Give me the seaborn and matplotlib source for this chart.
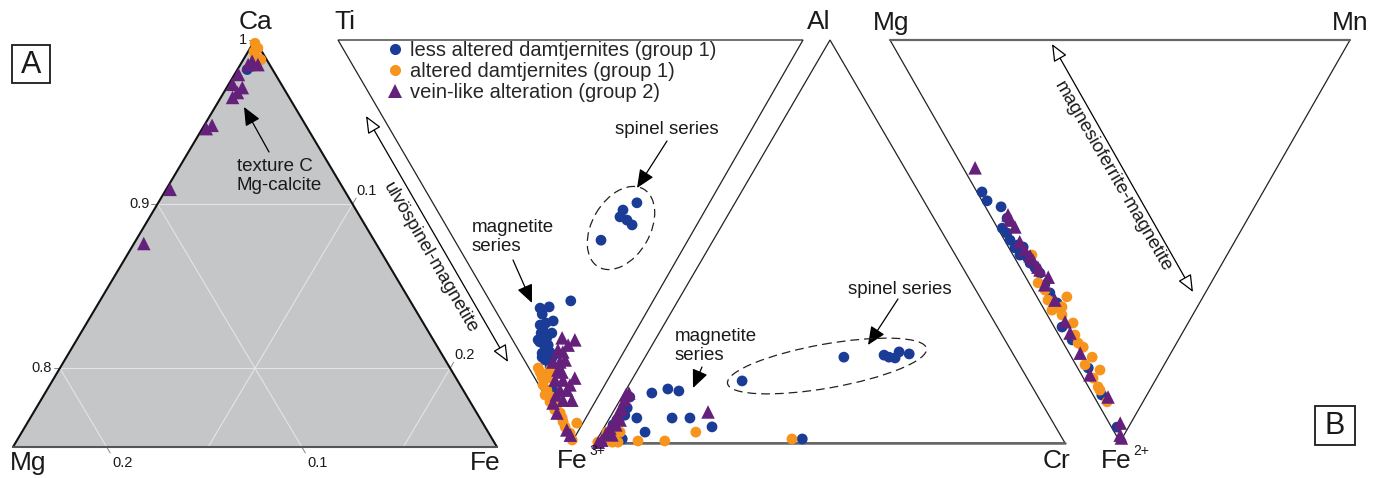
import numpy as np
import pandas as pd
import matplotlib
matplotlib.use("Agg")
import matplotlib.pyplot as plt
import seaborn as sns
from matplotlib.patches import Ellipse, Rectangle, Polygon
from matplotlib.lines import Line2D

groups = ["less altered damtjernites (group 1)",
          "altered damtjernites (group 1)",
          "vein-like alteration (group 2)"]
colors = ["#1a3c96", "#f7941d", "#65207b"]
markers = ["o", "o", "^"]

# A: carbonate Ca-Mg-Fe (Mg = 1 - Ca - Fe)
carb_less_ca = [0.982]
carb_less_fe = [0.005]
carb_alt_ca = [0.998, 0.995, 0.993, 0.988, 0.990]
carb_alt_fe = [0.001, 0.004, 0.003, 0.009, 0.005]
carb_vein_ca = [0.985, 0.985, 0.987, 0.979, 0.973, 0.971, 0.968, 0.965, 0.946, 0.948, 0.909, 0.876]
carb_vein_fe = [0.004, 0.009, 0.005, 0.002, 0.002, 0.008, 0.007, 0.006, 0.002, 0.004, 0.002, 0.005]

# B1: spinel Ti-Al-Fe3+ (Fe3+ = 1 - Ti - Al)
spl1_less_ti = [0.177, 0.234, 0.216, 0.222, 0.203, 0.190, 0.201, 0.178, 0.193, 0.175, 0.174, 0.159,
                0.159, 0.140, 0.132, 0.105, 0.088, 0.183, 0.199, 0.201, 0.171, 0.169, 0.147, 0.213,
                0.156, 0.177, 0.175, 0.156, 0.139, 0.187]
spl1_less_al = [0.174, 0.099, 0.120, 0.096, 0.093, 0.111, 0.070, 0.093, 0.056, 0.061, 0.047, 0.065,
                0.045, 0.047, 0.030, 0.024, 0.016, 0.076, 0.055, 0.078, 0.070, 0.042, 0.062, 0.078,
                0.439, 0.400, 0.385, 0.396, 0.401, 0.315]
spl1_alt_ti = [0.164, 0.145, 0.133, 0.131, 0.118, 0.099, 0.078, 0.051, 0.033, 0.013, 0.015, 0.002,
               0.044, 0.136, 0.116, 0.061, 0.155, 0.077, 0.097]
spl1_alt_al = [0.020, 0.017, 0.009, 0.028, 0.011, 0.013, 0.014, 0.009, 0.004, 0.034, 0.007, 0.003,
               0.006, 0.043, 0.001, 0.011, 0.019, 0.003, 0.003]
spl1_vein_ti = [0.150, 0.120, 0.144, 0.131, 0.125, 0.140, 0.108, 0.096, 0.073, 0.113, 0.090, 0.075,
                0.089, 0.071, 0.068, 0.012, 0.026, 0.128, 0.052, 0.119, 0.116, 0.075, 0.092]
spl1_vein_al = [0.109, 0.134, 0.085, 0.093, 0.074, 0.059, 0.066, 0.058, 0.086, 0.041, 0.039, 0.054,
                0.008, 0.033, 0.004, 0.005, 0.004, 0.113, 0.052, 0.060, 0.088, 0.067, 0.025]

# B2: spinel Al-Fe3+-Cr (Fe3+ = 1 - Al - Cr)
spl2_less_al = [0.124, 0.134, 0.129, 0.114, 0.087, 0.069, 0.062, 0.057, 0.062, 0.062, 0.027, 0.040,
                0.010, 0.045, 0.010, 0.154, 0.213, 0.218, 0.213, 0.211, 0.226, 0.221]
spl2_less_cr = [0.059, 0.088, 0.114, 0.017, 0.025, 0.029, 0.058, 0.018, 0.133, 0.171, 0.093, 0.229,
                0.053, 0.016, 0.436, 0.236, 0.423, 0.506, 0.519, 0.533, 0.534, 0.558]
spl2_alt_al = [0.027, 0.012, 0.015, 0.027, 0.002, 0.005, 0.005, 0.027, 0.002, 0.002, 0.010]
spl2_alt_cr = [0.012, 0.015, 0.031, 0.040, 0.048, 0.089, 0.146, 0.201, 0.005, 0.036, 0.414]
spl2_vein_al = [0.124, 0.107, 0.087, 0.069, 0.052, 0.037, 0.022, 0.007, 0.057, 0.002, 0.077,
                0.045, 0.119, 0.020, 0.082]
spl2_vein_cr = [0.010, 0.010, 0.014, 0.014, 0.014, 0.013, 0.012, 0.011, 0.025, 0.006, 0.202,
                0.022, 0.006, 0.026, 0.012]

# B3: spinel Mg-Mn-Fe2+ (Mg = 1 - Fe2+ - Mn)
spl3_less_fe = [0.378, 0.400, 0.415, 0.443, 0.468, 0.480, 0.498, 0.517, 0.515, 0.540, 0.555, 0.580,
                0.609, 0.629, 0.654, 0.714, 0.816, 0.883, 0.963, 0.510, 0.567, 0.535, 0.746]
spl3_less_mn = [0.011, 0.011, 0.034, 0.033, 0.010, 0.014, 0.012, 0.013, 0.032, 0.028, 0.027, 0.036,
                0.032, 0.033, 0.036, 0.017, 0.023, 0.019, 0.012, 0.023, 0.032, 0.015, 0.023]
spl3_alt_fe = [0.535, 0.604, 0.647, 0.639, 0.664, 0.667, 0.684, 0.704, 0.754, 0.764, 0.789, 0.841,
               0.863, 0.900, 0.622, 0.672, 0.871, 0.808, 0.734, 0.821]
spl3_alt_mn = [0.041, 0.020, 0.020, 0.065, 0.042, 0.025, 0.032, 0.046, 0.032, 0.038, 0.045, 0.021,
               0.021, 0.022, 0.026, 0.016, 0.021, 0.020, 0.035, 0.046]
spl3_vein_fe = [0.318, 0.435, 0.465, 0.502, 0.547, 0.565, 0.590, 0.701, 0.729, 0.779, 0.888, 0.953,
                0.983, 0.990, 0.522, 0.537, 0.572, 0.448, 0.647, 0.833, 0.609]
spl3_vein_mn = [0.026, 0.039, 0.039, 0.031, 0.037, 0.039, 0.049, 0.030, 0.027, 0.024, 0.030, 0.024,
                0.009, 0.008, 0.032, 0.036, 0.040, 0.037, 0.035, 0.018, 0.032]

# triangle corners in figure pixels
A_CA, A_MG, A_FE = (255, 40), (13, 447), (497, 447)
A_SPAN = 0.248  # panel A only shows Ca > 0.752
T1_TI, T1_AL, T1_FE = (338, 40), (803, 40), (572, 442)
T2_AL, T2_FE, T2_CR = (830, 40), (595, 443), (1065, 443)
T3_MG, T3_MN, T3_FE = (890, 40), (1350, 40), (1120, 442)


def tern(w1, w2, w3, p1, p2, p3):
    w1, w2, w3 = np.asarray(w1, float), np.asarray(w2, float), np.asarray(w3, float)
    x = w1 * p1[0] + w2 * p2[0] + w3 * p3[0]
    y = w1 * p1[1] + w2 * p2[1] + w3 * p3[1]
    return x, y


def carb_xy(ca, fe):
    ca, fe = np.asarray(ca, float), np.asarray(fe, float)
    mg = 1 - ca - fe
    return tern((ca - (1 - A_SPAN)) / A_SPAN, mg / A_SPAN, fe / A_SPAN, A_CA, A_MG, A_FE)


def rest(a, b):
    return 1 - np.asarray(a) - np.asarray(b)


sets = [
    [carb_xy(carb_less_ca, carb_less_fe),
     carb_xy(carb_alt_ca, carb_alt_fe),
     carb_xy(carb_vein_ca, carb_vein_fe)],
    [tern(spl1_less_ti, spl1_less_al, rest(spl1_less_ti, spl1_less_al), T1_TI, T1_AL, T1_FE),
     tern(spl1_alt_ti, spl1_alt_al, rest(spl1_alt_ti, spl1_alt_al), T1_TI, T1_AL, T1_FE),
     tern(spl1_vein_ti, spl1_vein_al, rest(spl1_vein_ti, spl1_vein_al), T1_TI, T1_AL, T1_FE)],
    [tern(spl2_less_al, rest(spl2_less_al, spl2_less_cr), spl2_less_cr, T2_AL, T2_FE, T2_CR),
     tern(spl2_alt_al, rest(spl2_alt_al, spl2_alt_cr), spl2_alt_cr, T2_AL, T2_FE, T2_CR),
     tern(spl2_vein_al, rest(spl2_vein_al, spl2_vein_cr), spl2_vein_cr, T2_AL, T2_FE, T2_CR)],
    [tern(rest(spl3_less_fe, spl3_less_mn), spl3_less_mn, spl3_less_fe, T3_MG, T3_MN, T3_FE),
     tern(rest(spl3_alt_fe, spl3_alt_mn), spl3_alt_mn, spl3_alt_fe, T3_MG, T3_MN, T3_FE),
     tern(rest(spl3_vein_fe, spl3_vein_mn), spl3_vein_mn, spl3_vein_fe, T3_MG, T3_MN, T3_FE)],
]
frames = []
for gi, g in enumerate(groups):
    for s in sets:
        x, y = s[gi]
        frames.append(pd.DataFrame({"x": x, "y": y, "group": g}))
pts = pd.concat(frames, ignore_index=True)

sns.set_style("white")
plt.rcParams["font.family"] = ["Liberation Sans", "DejaVu Sans"]
ink = "#1a1a1a"

fig = plt.figure(figsize=(13.89, 4.78), dpi=100)
ax = fig.add_axes([0, 0, 1, 1])

# ---- panel A triangle
ax.add_patch(Polygon([A_CA, A_MG, A_FE], closed=True, fc="#c4c6c7", ec="none", zorder=1))
grid_c = "#e4e4e4"
for v in [0.9, 0.8]:
    x, y = carb_xy([v, v], [0, 1 - v])
    ax.plot(x, y, color=grid_c, lw=0.8, zorder=2)
for v in [0.1, 0.2]:
    # constant Mg
    x, y = carb_xy([1 - v, 1 - A_SPAN], [0, A_SPAN - v])
    ax.plot(x, y, color=grid_c, lw=0.8, zorder=2)
    # constant Fe
    x, y = carb_xy([1 - v, 1 - A_SPAN], [v, v])
    ax.plot(x, y, color=grid_c, lw=0.8, zorder=2)
ax.plot([A_MG[0], A_CA[0], A_FE[0]], [A_MG[1], A_CA[1], A_FE[1]], color="#111111", lw=1.5, zorder=3)
ax.plot([A_MG[0], A_FE[0]], [A_MG[1], A_FE[1]], color="#555555", lw=1.5, zorder=3)

for v, lab in [(1.0, "1"), (0.9, "0.9"), (0.8, "0.8")]:
    x, y = carb_xy([v], [0])
    ax.plot([x[0] - 6, x[0]], [y[0], y[0]], color="#888888", lw=0.7)
    ax.text(x[0] - 8, y[0], lab, ha="right", va="center", fontsize=10.5, color=ink)
d = np.array([0.511, -0.860])
for v in [0.1, 0.2]:
    x, y = carb_xy([1 - v], [v])
    ax.plot([x[0], x[0] + 7 * d[0]], [y[0], y[0] + 7 * d[1]], color="#888888", lw=0.7)
    ax.text(x[0] + 14, y[0] - 13, f"{v:.1f}", ha="center", va="center", fontsize=10.5, color=ink)
    x, y = carb_xy([1 - A_SPAN], [A_SPAN - v])
    ax.plot([x[0], x[0] + 7 * d[0]], [y[0], y[0] - 7 * d[1]], color="#888888", lw=0.7)
    ax.text(x[0] + 16, y[0] + 16, f"{v:.1f}", ha="center", va="center", fontsize=10.5, color=ink)

# ---- spinel triangles
for tri in [(T1_TI, T1_AL, T1_FE), (T2_AL, T2_FE, T2_CR), (T3_MG, T3_MN, T3_FE)]:
    ax.add_patch(Polygon(tri, closed=True, fc="none", ec="#222222", lw=0.9, zorder=2))
ax.plot([T2_FE[0] + 20, T2_CR[0]], [T2_FE[1], T2_CR[1]], color="#666666", lw=1.8, zorder=2)
ax.plot([T3_MG[0], T3_MN[0]], [T3_MG[1], T3_MN[1]], color="#666666", lw=1.6, zorder=2)

# ---- data points
sns.scatterplot(data=pts, x="x", y="y", hue="group", style="group", size="group",
                hue_order=groups, style_order=groups, size_order=groups,
                palette=dict(zip(groups, colors)), markers=dict(zip(groups, markers)),
                sizes=dict(zip(groups, [60, 60, 95])), linewidth=0, legend=False,
                ax=ax, zorder=5)

# ---- corner labels
lab_kw = dict(fontsize=19, color=ink, ha="center", va="center")
ax.text(256, 22, "Ca", **lab_kw)
ax.text(28, 463, "Mg", **lab_kw)
ax.text(485, 463, "Fe", **lab_kw)
ax.text(345, 22, "Ti", **lab_kw)
ax.text(819, 22, "Al", **lab_kw)
ax.text(557, 461, "Fe", fontsize=19, color=ink, ha="left", va="center", zorder=7)
ax.text(589, 451, "3+", fontsize=10, color=ink, ha="left", va="center", zorder=7)
ax.text(1057, 461, "Cr", **lab_kw)
ax.text(1101, 461, "Fe", fontsize=19, color=ink, ha="left", va="center", zorder=7)
ax.text(1133, 451, "2+", fontsize=10, color=ink, ha="left", va="center", zorder=7)
ax.text(891, 23, "Mg", **lab_kw)
ax.text(1350, 23, "Mn", **lab_kw)

# panel letters
ax.add_patch(Rectangle((12, 45), 38, 38, fc="white", ec=ink, lw=1.3))
ax.text(31, 65, "A", fontsize=22, color=ink, ha="center", va="center")
ax.add_patch(Rectangle((1315, 406), 40, 39, fc="white", ec=ink, lw=1.3))
ax.text(1335, 426, "B", fontsize=22, color=ink, ha="center", va="center")

# ---- annotations
txt_kw = dict(fontsize=13.5, color=ink)
arr_kw = dict(arrowstyle="-|>,head_length=0.8,head_width=0.35", color="black", lw=0.9,
              shrinkA=0, shrinkB=0, mutation_scale=14)
ax.text(237, 176, "texture C\nMg-calcite", ha="left", va="center", linespacing=1.15, **txt_kw)
ax.annotate("", xy=(244, 107), xytext=(269, 152), arrowprops=arr_kw)

ax.text(667, 130, "spinel series", ha="center", va="center", **txt_kw)
ax.annotate("", xy=(637, 188), xytext=(667, 141), arrowprops=arr_kw)
ax.text(472, 237, "magnetite\nseries", ha="left", va="center", linespacing=1.1, **txt_kw)
ax.annotate("", xy=(532, 303), xytext=(513, 260), arrowprops=arr_kw)

ax.text(900, 290, "spinel series", ha="center", va="center", **txt_kw)
ax.annotate("", xy=(868, 345), xytext=(898, 299), arrowprops=arr_kw)
ax.text(675, 346, "magnetite\nseries", ha="left", va="center", linespacing=1.1, **txt_kw)
ax.annotate("", xy=(693, 388), xytext=(702, 367), arrowprops=arr_kw)

ax.add_patch(Ellipse((621, 228), 90, 58, angle=-60, fc="none", ec="#222222", lw=0.9,
                     ls=(0, (7, 4)), zorder=4))
ax.add_patch(Ellipse((827, 366), 202, 44, angle=-10, fc="none", ec="#222222", lw=0.9,
                     ls=(0, (7, 4)), zorder=4))

dbl_kw = dict(arrowstyle="<|-|>,head_length=0.7,head_width=0.3", fc="white", ec="black",
              lw=0.9, shrinkA=0, shrinkB=0, mutation_scale=15)
ax.annotate("", xy=(366, 116), xytext=(508, 362), arrowprops=dbl_kw)
ax.text(430, 258, "ulvöspinel-magnetite", rotation=-59.8, rotation_mode="anchor",
        ha="center", va="center", **txt_kw)
ax.annotate("", xy=(1052, 44), xytext=(1193, 292), arrowprops=dbl_kw)
ax.text(1113, 177, "magnesioferrite-magnetite", rotation=-59.8, rotation_mode="anchor",
        ha="center", va="center", **txt_kw)

# ---- legend
handles = [Line2D([], [], ls="", marker=m, color=c, markersize=ms, markeredgewidth=0)
           for m, c, ms in zip(markers, colors, [8, 8, 9.5])]
ax.legend(handles, groups, loc="upper left", bbox_to_anchor=(385, 41),
          bbox_transform=ax.transData, frameon=False, fontsize=14.5,
          handlelength=1.0, handletextpad=0.25, labelspacing=0.1,
          borderpad=0, borderaxespad=0)

ax.set_xlim(0, 1389)
ax.set_ylim(478, 0)
ax.axis("off")
fig.savefig("out.png", dpi=100, facecolor="white")
